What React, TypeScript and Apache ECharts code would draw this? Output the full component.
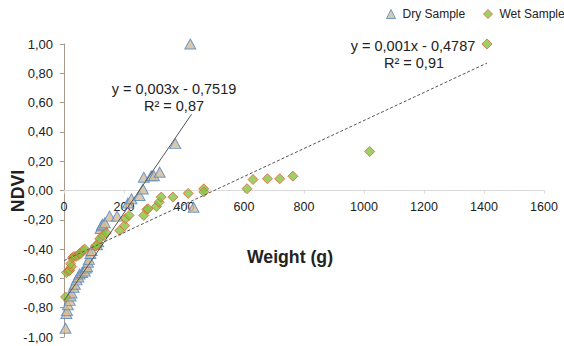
import React, { useEffect, useRef } from "react";
import * as echarts from "echarts";

const dryX = [5, 8, 10, 13, 19, 22, 25, 32, 36, 42, 48, 52, 60, 69, 73, 77, 80, 83, 88, 92, 110, 114, 122, 126, 128, 136, 152, 177, 213, 225, 252, 263, 266, 291, 300, 319, 371, 421, 432];
const dryY = [-0.94, -0.84, -0.82, -0.78, -0.75, -0.72, -0.70, -0.66, -0.64, -0.61, -0.59, -0.57, -0.56, -0.55, -0.53, -0.52, -0.49, -0.47, -0.43, -0.41, -0.37, -0.35, -0.26, -0.24, -0.23, -0.22, -0.175, -0.175, -0.086, -0.057, -0.034, 0.01, 0.09, 0.10, 0.10, 0.125, 0.32, 1.0, -0.115];

const wetX = [5, 8, 15, 19, 25, 22, 28, 33, 40, 47, 52, 56, 63, 69, 105, 110, 119, 130, 141, 186, 202, 205, 217, 266, 276, 280, 308, 317, 324, 363, 414, 466, 466, 610, 630, 678, 719, 763, 1019, 1410];
const wetY = [-0.727, -0.56, -0.55, -0.545, -0.52, -0.50, -0.46, -0.45, -0.45, -0.443, -0.43, -0.43, -0.41, -0.40, -0.38, -0.37, -0.33, -0.307, -0.29, -0.273, -0.24, -0.193, -0.17, -0.17, -0.13, -0.125, -0.11, -0.08, -0.045, -0.045, -0.02, 0.012, -0.01, 0.012, 0.075, 0.08, 0.08, 0.098, 0.266, 1.0];

const dryTrendX = [0, 425];
const dryTrendY = [-0.7519, 0.52];
const wetTrendX = [0, 1410];
const wetTrendY = [-0.4787, 0.87];

const seriesNames = ["Dry Sample", "Wet Sample"];
const dryEquation = ["y = 0,003x - 0,7519", "R² = 0,87"];
const wetEquation = ["y = 0,001x - 0,4787", "R² = 0,91"];
const xAxisTitle = "Weight (g)";
const yAxisTitle = "NDVI";

const FONT = "'Liberation Sans', Arial, sans-serif";

const zip = (xs: number[], ys: number[]) => xs.map((x, i) => [x, ys[i]]);

const GRID_TOP = 44;
const GRID_BOTTOM = 9;
const CHART_H = 346;

export default function App() {
  const ref = useRef<HTMLDivElement>(null);
  useEffect(() => {
    if (!ref.current) return;
    const chart = echarts.init(ref.current, null, { renderer: "svg" });
    const dryStyle = { color: "#d3bb96", borderColor: "#4f86c6", borderWidth: 1 };
    const wetStyle = { color: "#86c440", borderColor: "#e2603a", borderWidth: 1 };
    const plotH = CHART_H - GRID_TOP - GRID_BOTTOM;
    const legendCommon = {
      top: 8,
      padding: 0,
      itemWidth: 9,
      itemHeight: 9,
      textStyle: { fontSize: 12, color: "#222", fontFamily: FONT, padding: [0, 0, 0, 2] },
    };
    chart.setOption({
      animation: false,
      backgroundColor: "#ffffff",
      textStyle: { fontFamily: FONT },
      grid: { left: 64, right: 20, top: GRID_TOP, bottom: GRID_BOTTOM, containLabel: false, outerBoundsMode: "none" },
      legend: [
        { ...legendCommon, left: 386, data: [{ name: seriesNames[0], icon: "triangle", itemStyle: dryStyle }] },
        { ...legendCommon, left: 483, data: [{ name: seriesNames[1], icon: "diamond", itemStyle: wetStyle }] },
      ],
      xAxis: {
        type: "value",
        min: 0,
        max: 1600,
        interval: 200,
        offset: -plotH / 2,
        axisLine: { onZero: false, lineStyle: { color: "#d9d9d9", width: 1 } },
        axisTick: { show: true, inside: false, length: 3, lineStyle: { color: "#d9d9d9" } },
        axisLabel: { fontSize: 12.5, color: "#222", margin: 10, fontFamily: FONT, formatter: (v: number) => String(v) },
        splitLine: { show: false },
      },
      yAxis: {
        type: "value",
        min: -1,
        max: 1,
        interval: 0.2,
        axisLine: { show: true, onZero: false, lineStyle: { color: "#a8998c", width: 1 } },
        axisTick: { show: true, length: 4, lineStyle: { color: "#a8998c" } },
        axisLabel: {
          fontSize: 13,
          color: "#222",
          margin: 11,
          fontFamily: FONT,
          formatter: (v: number) => v.toFixed(2).replace(".", ","),
        },
        splitLine: { show: false },
      },
      series: [
        {
          name: seriesNames[0],
          type: "scatter",
          symbol: "triangle",
          symbolSize: [11, 10],
          itemStyle: dryStyle,
          data: zip(dryX, dryY),
          z: 2,
        },
        {
          name: seriesNames[1],
          type: "scatter",
          symbol: "diamond",
          symbolSize: 10,
          itemStyle: wetStyle,
          data: zip(wetX, wetY),
          z: 3,
        },
        {
          name: "dryTrend",
          type: "line",
          symbol: "none",
          data: zip(dryTrendX, dryTrendY),
          lineStyle: { color: "#555555", width: 1 },
          z: 5,
        },
        {
          name: "wetTrend",
          type: "line",
          symbol: "none",
          data: zip(wetTrendX, wetTrendY),
          lineStyle: { color: "#555555", width: 1, type: [3, 2] },
          z: 5,
        },
      ],
      graphic: [
        {
          type: "text",
          x: 174,
          y: 89,
          style: { text: dryEquation[0], font: `14.5px ${FONT}`, fill: "#222", textAlign: "center", textVerticalAlign: "middle" },
        },
        {
          type: "text",
          x: 174,
          y: 106,
          style: { text: dryEquation[1], font: `14.5px ${FONT}`, fill: "#222", textAlign: "center", textVerticalAlign: "middle" },
        },
        {
          type: "text",
          x: 413,
          y: 46,
          style: { text: wetEquation[0], font: `14.5px ${FONT}`, fill: "#222", textAlign: "center", textVerticalAlign: "middle" },
        },
        {
          type: "text",
          x: 414,
          y: 63,
          style: { text: wetEquation[1], font: `14.5px ${FONT}`, fill: "#222", textAlign: "center", textVerticalAlign: "middle" },
        },
        {
          type: "text",
          x: 290,
          y: 257,
          style: { text: xAxisTitle, font: `bold 17.7px ${FONT}`, fill: "#222", textAlign: "center", textVerticalAlign: "middle" },
        },
        {
          type: "text",
          x: 18,
          y: 191,
          rotation: Math.PI / 2,
          style: { text: yAxisTitle, font: `bold 17.7px ${FONT}`, fill: "#222", textAlign: "center", textVerticalAlign: "middle" },
        },
      ],
    });
    return () => chart.dispose();
  }, []);
  return (
    <div
      ref={ref}
      style={{ position: "absolute", left: 0, top: 0, width: 564, height: 346, background: "#fff" }}
    />
  );
}
